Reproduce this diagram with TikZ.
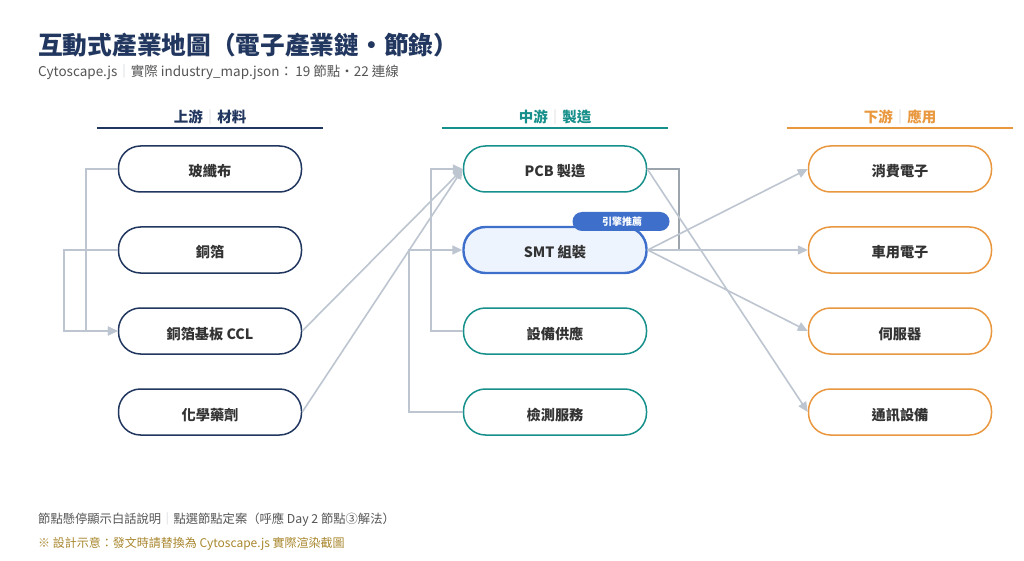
\documentclass[tikz,border=0pt]{standalone}
\usepackage{fontspec}
\setmainfont{Noto Sans CJK TC}
\usetikzlibrary{arrows.meta}
\definecolor{navy}{HTML}{22375F}
\definecolor{teal}{HTML}{17908B}
\definecolor{orng}{HTML}{E9983F}
\definecolor{edgec}{HTML}{BDC5D0}
\definecolor{edgedk}{HTML}{9CA4AE}
\definecolor{txt}{HTML}{333333}
\definecolor{subg}{HTML}{555555}
\definecolor{gold}{HTML}{A9872E}
\definecolor{badge}{HTML}{3D6FCB}
\definecolor{smtfill}{HTML}{EEF4FD}
\definecolor{sepc}{HTML}{C8CCD2}
\begin{document}
\begin{tikzpicture}[x=1pt,y=-1pt,
  pill/.style={rectangle,rounded corners=22pt,minimum width=183pt,minimum height=46pt,
    line width=1.5pt,fill=white,font=\fontsize{14.2}{16}\selectfont\bfseries,text=txt,inner sep=0pt,
    text height=16pt,text depth=0pt},
  upn/.style={pill,draw=navy},
  midn/.style={pill,draw=teal},
  downn/.style={pill,draw=orng},
  edge/.style={draw=edgec,line width=1.6pt,-{Triangle[length=10pt,width=9pt]}},
  hdr/.style={font=\fontsize{14.5}{16}\selectfont\bfseries,anchor=center},
  hline/.style={line width=2pt}]
\useasboundingbox (0,0) rectangle (1024,561);
\fill[white] (0,0) rectangle (1024,561);
% title
\node[anchor=base west,inner sep=0pt,text=navy,font=\fontsize{24.7}{28}\selectfont\bfseries] (title) at (38,55) {互動式產業地圖（電子產業鏈・節錄）};
\node[anchor=base west,inner sep=0pt,text=subg,font=\fontsize{13.5}{15}\selectfont] (sub) at (38,77) {Cytoscape.js{\color{sepc}｜}實際 industry\_map.json：\,19 節點・22 連線};
% headers
\node[hdr,text=navy] (h1) at (210,117) {上游{\color{sepc}\mdseries｜}材料};
\node[hdr,text=teal] (h2) at (555,117) {中游{\color{sepc}\mdseries｜}製造};
\node[hdr,text=orng] (h3) at (900,117) {下游{\color{sepc}\mdseries｜}應用};
\coordinate (h1a) at (97,128); \coordinate (h1b) at (323,128);
\coordinate (h2a) at (442,128); \coordinate (h2b) at (668,128);
\coordinate (h3a) at (787,128); \coordinate (h3b) at (1013,128);
\draw[hline,navy] (h1a) -- (h1b);
\draw[hline,teal] (h2a) -- (h2b);
\draw[hline,orng] (h3a) -- (h3b);
% nodes
\node[upn] (glass) at (210,169) {玻纖布};
\node[upn] (cu) at (210,250) {銅箔};
\node[upn] (ccl) at (210,331) {銅箔基板 CCL};
\node[upn] (chem) at (210,412) {化學藥劑};
\node[midn] (pcb) at (555,169) {PCB 製造};
\node[pill,draw=badge,fill=smtfill,line width=2.4pt] (smt) at (555,250) {SMT 組裝};
\node[midn] (equip) at (555,331) {設備供應};
\node[midn] (insp) at (555,412) {檢測服務};
\node[downn] (cons) at (900,169) {消費電子};
\node[downn] (auto) at (900,250) {車用電子};
\node[downn] (serv) at (900,331) {伺服器};
\node[downn] (tele) at (900,412) {通訊設備};
% badge
\node[rectangle,rounded corners=9.5pt,fill=badge,minimum width=97pt,minimum height=19pt,inner sep=0pt,
  text=white,font=\fontsize{10}{11}\selectfont\bfseries] (badge) at (621,221.5) {\hspace*{2pt}引擎推薦};
% connectors
\draw[edge] (glass.west) -- ++(-32,0) |- (ccl.west);
\draw[edge] (cu.west) -- ++(-54,0) |- (ccl.west);
\draw[edge] (ccl.east) -- (pcb.west);
\draw[edge] (chem.east) -- (pcb.west);
\draw[edge] (equip.west) -- ++(-32,0) |- (pcb.west);
\draw[edge] (insp.west) -- ++(-54,0) |- (smt.west);
\draw[draw=edgedk,line width=1.6pt] (pcb.east) -- ++(32,0) |- (smt.east);
\draw[edge] (pcb.east) -- (tele.west);
\draw[edge] (smt.east) -- (cons.west);
\draw[edge] (smt.east) -- (auto.west);
\draw[edge] (smt.east) -- (serv.west);
% footer
\node[anchor=base west,inner sep=0pt,text=subg,font=\fontsize{12.3}{14}\selectfont] (f1) at (38,523) {節點懸停顯示白話說明{\color{sepc}｜}點選節點定案（呼應 Day 2 節點③解法）};
\node[anchor=base west,inner sep=0pt,text=gold,font=\fontsize{12}{14}\selectfont] (f2) at (38,547) {※ 設計示意：發文時請替換為 Cytoscape.js 實際渲染截圖};
\end{tikzpicture}
\end{document}
